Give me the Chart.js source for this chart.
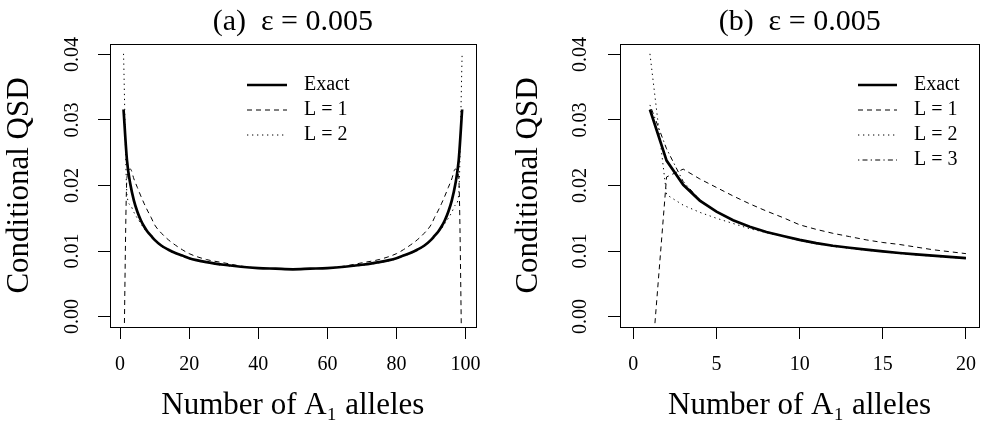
<!DOCTYPE html>
<html>
<head>
<meta charset="utf-8">
<script src="https://cdn.jsdelivr.net/npm/chart.js@4.4.1/dist/chart.umd.min.js"></script>
<style>
  html, body { margin: 0; padding: 0; background: #fff; }
  #wrap { position: relative; width: 990px; height: 424px; }
  canvas { position: absolute; top: 0; }
</style>
</head>
<body>
<div id="wrap">
  <canvas id="chartA" width="495" height="424" style="left:0"></canvas>
  <canvas id="chartB" width="495" height="424" style="left:495px"></canvas>
</div>
<script>
// ---- data ----
// panel (a): number of A1 alleles, 1..99
const allelesA = [1, 2, 3, 4, 5, 6, 7, 8, 9, 10, 12, 14, 16, 18, 20, 25, 30, 35, 40, 45, 50,
                  55, 60, 65, 70, 75, 80, 82, 84, 86, 88, 90, 91, 92, 93, 94, 95, 96, 97, 98, 99];
const exactA = [0.0316, 0.0238, 0.0201, 0.0177, 0.0160, 0.0147, 0.0137, 0.0129, 0.0123, 0.0117,
                0.0108, 0.0102, 0.0097, 0.0093, 0.0089, 0.0083, 0.0079, 0.0076, 0.0074, 0.0073, 0.0072,
                0.0073, 0.0074, 0.0076, 0.0079, 0.0083, 0.0089, 0.0093, 0.0097, 0.0102, 0.0108,
                0.0117, 0.0123, 0.0129, 0.0137, 0.0147, 0.0160, 0.0177, 0.0201, 0.0238, 0.0316];
const l1A = [-0.0106, 0.0213, 0.0225, 0.0210, 0.0197, 0.0184, 0.0172, 0.0161, 0.0151, 0.0140,
             0.0127, 0.0117, 0.0109, 0.0102, 0.0096, 0.0087, 0.0082, 0.0077, 0.0074, 0.0073, 0.0072,
             0.0073, 0.0074, 0.0077, 0.0082, 0.0087, 0.0096, 0.0102, 0.0109, 0.0117, 0.0127,
             0.0140, 0.0151, 0.0161, 0.0172, 0.0184, 0.0197, 0.0210, 0.0225, 0.0213, -0.0106];
const l2A = [0.0401, 0.0186, 0.0170, 0.0159, 0.0150, 0.0142, 0.0134, 0.0128, 0.0122, 0.0116,
             0.0107, 0.0101, 0.0096, 0.0092, 0.0088, 0.0082, 0.0078, 0.0076, 0.0074, 0.0073, 0.0072,
             0.0073, 0.0074, 0.0076, 0.0078, 0.0082, 0.0088, 0.0092, 0.0096, 0.0101, 0.0107,
             0.0116, 0.0122, 0.0128, 0.0134, 0.0142, 0.0150, 0.0159, 0.0170, 0.0186, 0.0401];

// panel (b): first 20 allele counts
const allelesB = [1, 2, 3, 4, 5, 6, 7, 8, 9, 10, 11, 12, 13, 14, 15, 16, 17, 18, 19, 20];
const exactB = [0.0316, 0.0238, 0.0201, 0.0177, 0.0160, 0.0147, 0.0137, 0.0129, 0.0123, 0.0117,
                0.0112, 0.0108, 0.0105, 0.0102, 0.00995, 0.0097, 0.0095, 0.0093, 0.0091, 0.0089];
const l1B = [-0.0106, 0.0213, 0.0225, 0.0210, 0.0197, 0.0184, 0.0172, 0.0161, 0.0151, 0.0140,
             0.0133, 0.0127, 0.0122, 0.0117, 0.0113, 0.0110, 0.0106, 0.0102, 0.0099, 0.0096];
const l2B = [0.0401, 0.0186, 0.0170, 0.0159, 0.0150, 0.0142, 0.0134, 0.0128, 0.0122, 0.0116,
             0.0111, 0.0107, 0.0104, 0.0101, 0.0099, 0.0096, 0.0094, 0.0092, 0.0090, 0.0089];
const l3B = [0.0323, 0.0256, 0.0206, 0.0178, 0.0160, 0.0147, 0.0137, 0.0129, 0.0123, 0.0117,
             0.0112, 0.0108, 0.0105, 0.0102, 0.0099, 0.0097, 0.0095, 0.0093, 0.0091, 0.0089];

const yTicks = [0, 0.01, 0.02, 0.03, 0.04];
const titleA = '(a)  \u03b5 = 0.005';
const titleB = '(b)  \u03b5 = 0.005';
const xTitle = 'Number of A\u2081 alleles';
const yTitle = 'Conditional QSD';

// ---- styling ----
const SERIF = '"Liberation Serif", "Times New Roman", serif';
Chart.defaults.color = '#000';
Chart.defaults.font.family = SERIF;

const lineStyles = {
  'Exact': { borderWidth: 2.7, borderDash: [] },
  'L = 1': { borderWidth: 1, borderDash: [5, 4] },
  'L = 2': { borderWidth: 1, borderDash: [1.3, 3.7] },
  'L = 3': { borderWidth: 1, borderDash: [1.3, 3.2, 5, 3.2] }
};

function series(label, xs, ys, smooth) {
  return {
    label: label,
    data: xs.map((x, i) => ({ x: x, y: ys[i] })),
    borderColor: '#000',
    borderWidth: lineStyles[label].borderWidth,
    borderDash: lineStyles[label].borderDash,
    pointRadius: 0,
    tension: 0,
    cubicInterpolationMode: smooth ? 'monotone' : 'default',
    fill: false
  };
}

// box, title and in-plot legend, in the manner of base R graphics
const decor = {
  id: 'decor',
  afterDraw(chart, args, opts) {
    const ctx = chart.ctx;
    const a = chart.chartArea;
    ctx.save();
    ctx.strokeStyle = '#000';
    ctx.lineWidth = 1;
    ctx.setLineDash([]);
    ctx.strokeRect(Math.round(a.left) + 0.5, Math.round(a.top) + 0.5,
                   Math.round(a.right - a.left), Math.round(a.bottom - a.top));

    ctx.fillStyle = '#000';
    ctx.textAlign = 'center';
    ctx.textBaseline = 'middle';
    ctx.font = '30px ' + SERIF;
    ctx.fillText(opts.title, (a.left + a.right) / 2, 22);

    ctx.font = '20px ' + SERIF;
    ctx.textAlign = 'left';
    chart.data.datasets.forEach((ds, i) => {
      const y = opts.rowY + i * opts.rowStep;
      ctx.beginPath();
      ctx.lineWidth = ds.borderWidth;
      ctx.setLineDash(ds.borderDash);
      ctx.moveTo(opts.lineX0, y);
      ctx.lineTo(opts.lineX1, y);
      ctx.stroke();
      ctx.fillText(ds.label, opts.textX, y);
    });
    ctx.restore();
  }
};

function makeChart(id, datasets, cfg) {
  return new Chart(document.getElementById(id), {
    type: 'line',
    data: { datasets: datasets },
    options: {
      responsive: false,
      animation: false,
      layout: { padding: { left: 0, right: cfg.padRight, top: 44, bottom: 0 } },
      plugins: {
        legend: { display: false },
        tooltip: { enabled: false },
        decor: cfg.decor
      },
      scales: {
        x: {
          type: 'linear',
          min: cfg.xMin,
          max: cfg.xMax,
          ticks: { stepSize: cfg.xStep, includeBounds: false, maxRotation: 0, autoSkip: false,
                   padding: 14, font: { size: 20 } },
          grid: { drawOnChartArea: false, drawTicks: true, tickLength: 12, color: '#000', lineWidth: 1 },
          border: { display: false },
          title: { display: true, text: xTitle, font: { size: 31 }, padding: { top: 0, bottom: 0 } },
          afterFit: s => { s.height = 97; }
        },
        y: {
          type: 'linear',
          min: -0.0016,
          max: 0.0416,
          afterBuildTicks: s => { s.ticks = yTicks.map(v => ({ value: v })); },
          ticks: { callback: v => v.toFixed(2), minRotation: 90, maxRotation: 90, crossAlign: 'center',
                   padding: cfg.yTickPad, font: { size: 20 } },
          grid: { drawOnChartArea: false, drawTicks: true, tickLength: 12, color: '#000', lineWidth: 1 },
          border: { display: false },
          title: { display: true, text: yTitle, font: { size: 31 }, padding: { top: cfg.yTitlePad, bottom: 0 } },
          afterFit: s => { s.width = cfg.yWidth; }
        }
      }
    },
    plugins: [decor]
  });
}

makeChart('chartA', [
  series('Exact', allelesA, exactA, true),
  series('L = 1', allelesA, l1A, true),
  series('L = 2', allelesA, l2A, true)
], {
  padRight: 15, yWidth: 110, yTickPad: 8, yTitlePad: 1.4,
  xMin: -2.92, xMax: 102.92, xStep: 20,
  decor: { title: titleA, lineX0: 247, lineX1: 287, textX: 304, rowY: 85, rowStep: 25 }
});

makeChart('chartB', [
  series('Exact', allelesB, exactB, false),
  series('L = 1', allelesB, l1B, false),
  series('L = 2', allelesB, l2B, false),
  series('L = 3', allelesB, l3B, false)
], {
  padRight: 1, yWidth: 125, yTickPad: 10, yTitlePad: 15.4,
  xMin: -0.8, xMax: 20.8, xStep: 5,
  decor: { title: titleB, lineX0: 363, lineX1: 402, textX: 419, rowY: 85, rowStep: 25 }
});
</script>
</body>
</html>
